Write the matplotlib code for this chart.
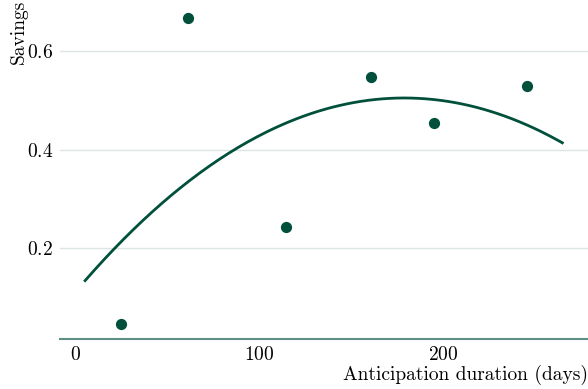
import numpy as np
import matplotlib
matplotlib.use('Agg')
import matplotlib.pyplot as plt

# anticipation duration (days) vs savings
days = [24.5, 61, 114.4, 160.8, 195, 245.8]
savings = [0.047, 0.666, 0.243, 0.547, 0.453, 0.528]

# trend curve
trend_days = [5, 20, 63, 95, 177, 204, 265]
trend_savings = [0.132, 0.200, 0.338, 0.417, 0.506, 0.497, 0.413]

green = '#00503c'

plt.rcParams['font.family'] = 'serif'
plt.rcParams['font.serif'] = ['cmr10']
plt.rcParams['mathtext.fontset'] = 'cm'
plt.rcParams['axes.formatter.use_mathtext'] = True

fig = plt.figure(figsize=(5.88, 3.89), dpi=100)
ax = fig.add_axes([0.102, 0.1285, 0.898, 0.8715])

coef = np.polyfit(trend_days, trend_savings, 2)
xs = np.linspace(trend_days[0], trend_days[-1], 200)
ax.plot(xs, np.polyval(coef, xs), color=green, lw=2)
ax.scatter(days, savings, color=green, s=50, zorder=3)

ax.set_xlim(-8.7, 279)
ax.set_ylim(0.016, 0.703)
ax.set_xticks([0, 100, 200])
ax.set_yticks([0.2, 0.4, 0.6])
ax.yaxis.grid(True, color='#dde5e3', lw=1)
ax.set_axisbelow(True)
for s in ['top', 'right', 'left']:
    ax.spines[s].set_visible(False)
ax.spines['bottom'].set_color('#5f8f85')
ax.spines['bottom'].set_linewidth(1.5)
ax.tick_params(length=0, labelsize=14, pad=5)
ax.set_xlabel('Anticipation duration (days)', fontsize=14, loc='right', labelpad=1)
ax.set_ylabel('Savings', fontsize=14, loc='top', labelpad=-1)

fig.savefig('out.png', dpi=100)
